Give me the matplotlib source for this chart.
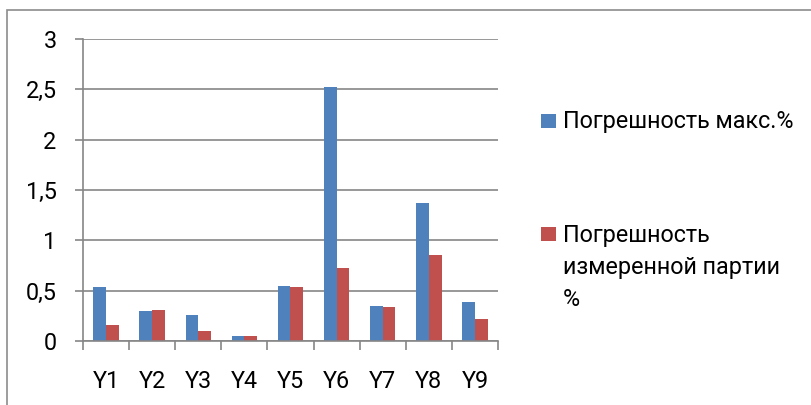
import matplotlib
matplotlib.use("Agg")
import matplotlib.pyplot as plt
from matplotlib.patches import Rectangle
import numpy as np

categories = ["Y1", "Y2", "Y3", "Y4", "Y5", "Y6", "Y7", "Y8", "Y9"]
max_error = [0.54, 0.30, 0.26, 0.05, 0.55, 2.52, 0.35, 1.37, 0.39]
batch_error = [0.16, 0.31, 0.10, 0.05, 0.54, 0.73, 0.34, 0.85, 0.22]
series_labels = ["Погрешность макс.%", "Погрешность\nизмеренной партии\n%"]
yticks = [0, 0.5, 1, 1.5, 2, 2.5, 3]
ytick_labels = ["0", "0,5", "1", "1,5", "2", "2,5", "3"]

FONT = "Roboto"
GRID = "#868686"
BLUE = "#4F81BD"
RED = "#C0504D"

W, H = 812, 405
fig = plt.figure(figsize=(W / 100, H / 100), dpi=100)

# pick a font size so the legend text is as wide as in the reference (~232 px)
renderer = fig.canvas.get_renderer()
probe = fig.text(0, 0, series_labels[0], fontfamily=FONT, fontsize=10)
wpx = probe.get_window_extent(renderer).width
probe.remove()
FS = 10 * 232 / wpx

ax = fig.add_axes([83 / W, 1 - 341 / H, (498 - 83) / W, (341 - 39) / H])

x = np.arange(len(categories))
bw = 0.275
ax.bar(x - bw / 2, max_error, width=bw, color=BLUE, zorder=3)
ax.bar(x + bw / 2, batch_error, width=bw, color=RED, zorder=3)

ax.set_xlim(-0.5, len(categories) - 0.5)
ax.set_ylim(0, 3)
ax.set_yticks(yticks)
ax.set_yticklabels(ytick_labels, fontfamily=FONT, fontsize=FS)
ax.set_xticks(x)
ax.set_xticklabels(categories, fontfamily=FONT, fontsize=FS)
ax.tick_params(axis="x", length=0, pad=21)
ax.set_xticks(np.arange(-0.5, len(categories)), minor=True)
ax.tick_params(axis="x", which="minor", length=6.5, width=1.2, color=GRID, direction="out")
ax.tick_params(axis="y", length=6, width=1.2, color=GRID, pad=13, direction="out")
ax.yaxis.grid(True, color=GRID, linewidth=1.2, zorder=0)
ax.set_axisbelow(True)
for s in ["top", "right"]:
    ax.spines[s].set_visible(False)
for s in ["left", "bottom"]:
    ax.spines[s].set_color(GRID)
    ax.spines[s].set_linewidth(1.2)
    ax.spines[s].set_zorder(4)

# chart border
fig.add_artist(Rectangle((7 / W, -0.1), 2.0, 1 - 10 / H + 0.1, transform=fig.transFigure,
                         fill=False, edgecolor="#8C8C8C", linewidth=1.2))

def fy(py):
    return 1 - py / H

# legend
fig.add_artist(Rectangle((541 / W, fy(128)), 15 / W, 14 / H, transform=fig.transFigure,
                         facecolor=BLUE, edgecolor="none"))
fig.text(563 / W, fy(128.3), series_labels[0], fontfamily=FONT, fontsize=FS, va="baseline", ha="left")
fig.add_artist(Rectangle((541 / W, fy(241)), 15 / W, 14 / H, transform=fig.transFigure,
                         facecolor=RED, edgecolor="none"))
for i, line in enumerate(series_labels[1].split("\n")):
    fig.text(563 / W, fy(241.7 + 32 * i), line, fontfamily=FONT, fontsize=FS, va="baseline", ha="left")

fig.savefig("out.png", dpi=100)
